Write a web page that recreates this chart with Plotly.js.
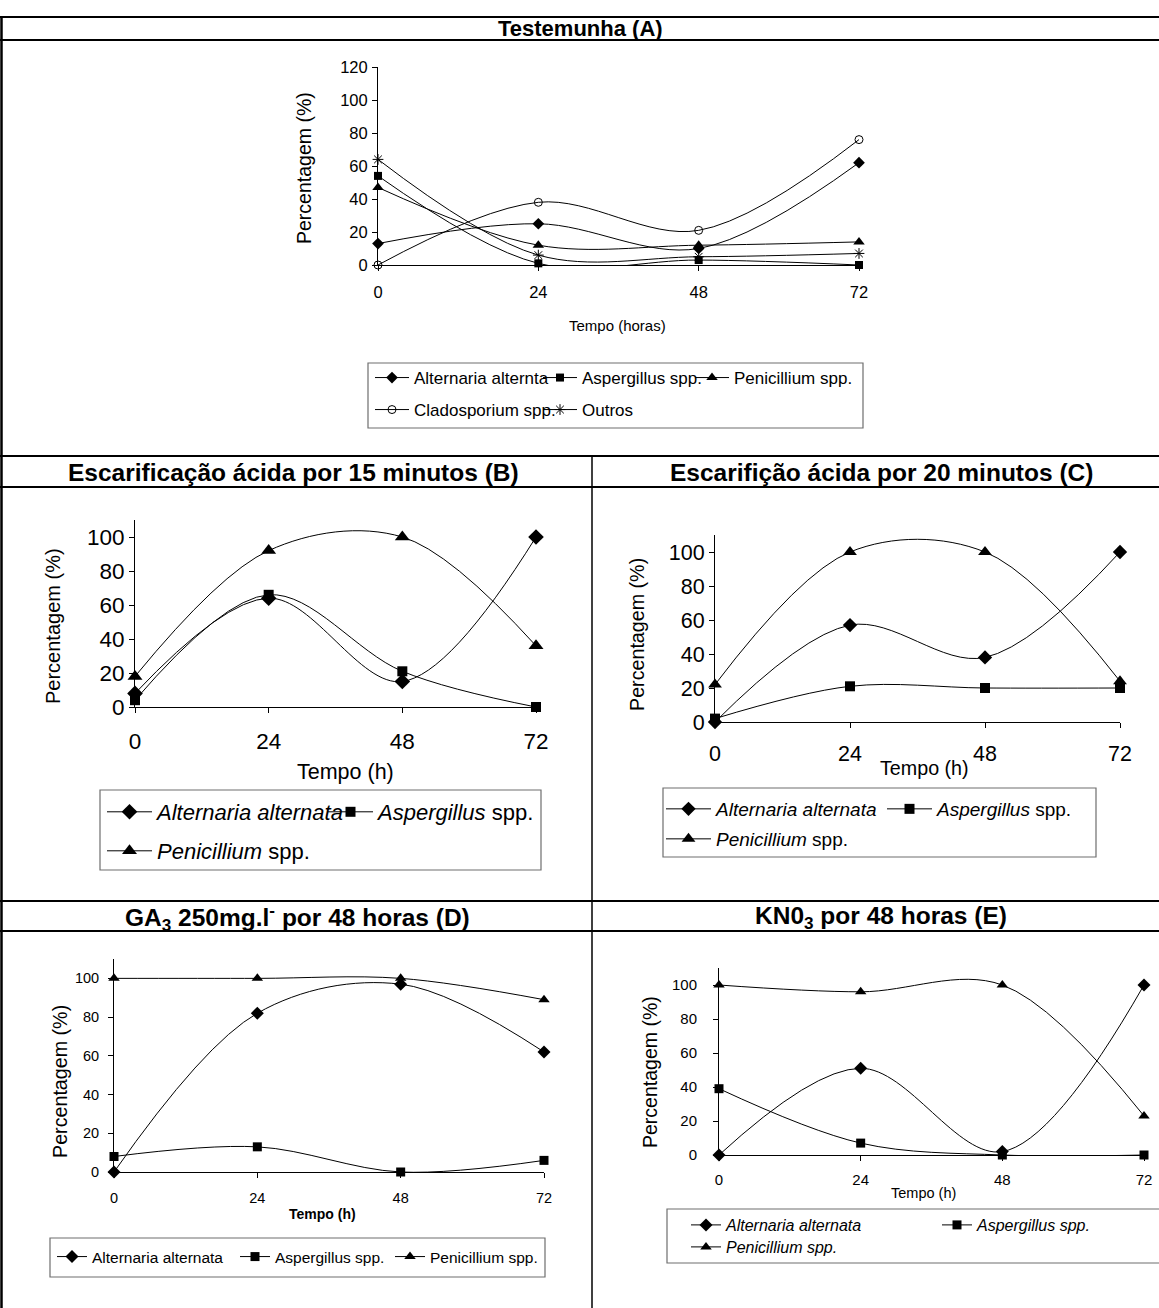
<!DOCTYPE html>
<html><head><meta charset="utf-8">
<script src="https://cdn.plot.ly/plotly-3.0.1.min.js"></script>
<style>html,body{margin:0;padding:0;background:#fff}</style>
</head><body><div id="chart" style="width:1159px;height:1308px"></div>
<script>
// ---------- DATA ----------
const hours = [0, 24, 48, 72];
const hourTicks = ['0', '24', '48', '72'];
const yTicksA = [0, 20, 40, 60, 80, 100, 120];
const yTicks = [0, 20, 40, 60, 80, 100];

// (A) Testemunha
const aAlternaria = [13, 25, 10, 62];
const aAspergillus = [54, 1, 3, 0];
const aPenicillium = [47, 12, 12, 14];
const aCladosporium = [0, 38, 21, 76];
const aOutros = [64, 6, 5, 7];
// (B) Escarificação ácida 15 min
const bAlternaria = [8, 64, 15, 100];
const bAspergillus = [4, 66, 21, 0];
const bPenicillium = [18, 92, 100, 36];
// (C) Escarificação ácida 20 min
const cAlternaria = [0, 57, 38, 100];
const cAspergillus = [2, 21, 20, 20];
const cPenicillium = [22, 100, 100, 24];
// (D) GA3
const dAlternaria = [0, 82, 97, 62];
const dAspergillus = [8, 13, 0, 6];
const dPenicillium = [100, 100, 100, 89];
// (E) KNO3
const eAlternaria = [0, 51, 2, 100];
const eAspergillus = [39, 7, 0, 0];
const ePenicillium = [100, 96, 100, 23];

const titleA = '<b>Testemunha (A)</b>';
const titleB = '<b>Escarificação ácida por 15 minutos (B)</b>';
const titleC = '<b>Escarifição ácida por 20 minutos (C)</b>';
const titleD = '<b>GA<sub>3</sub> 250mg.l<sup>-</sup> por 48 horas (D)</b>';
const titleE = '<b>KN0<sub>3</sub> por 48 horas (E)</b>';

// ---------- LAYOUT HELPERS ----------
const W = 1159, H = 1308;
const px = x => x / W;
const py = y => 1 - y / H;
const FONT = 'Liberation Sans, Arial, sans-serif';

function tr(x, y, name, sym, size, xa, ya, leg, lw, open) {
  return {
    type: 'scatter', mode: 'lines+markers', x: x, y: y, name: name,
    xaxis: xa, yaxis: ya, legend: leg, legendwidth: lw, cliponaxis: false,
    line: {color: '#000', width: 1, shape: 'spline', smoothing: 1},
    marker: {symbol: sym, size: size, color: '#000',
             line: {color: '#000', width: open ? 1 : 0}}
  };
}

const data = [
  tr(hours, aAlternaria, 'Alternaria alternta', 'diamond', 9, 'x', 'y', 'legend', 119),
  tr(hours, aAspergillus, 'Aspergillus spp.', 'square', 8, 'x', 'y', 'legend', 103),
  tr(hours, aPenicillium, 'Penicillium spp.', 'triangle-up', 10, 'x', 'y', 'legend', 140),
  tr(hours, aCladosporium, 'Cladosporium spp.', 'circle-open', 8, 'x', 'y', 'legend2', 119, true),
  tr(hours, aOutros, 'Outros', 'asterisk-open', 9, 'x', 'y', 'legend2', 70, true),

  tr(hours, bAlternaria, '<i>Alternaria alternata</i>', 'diamond', 12, 'x2', 'y2', 'legend3', 161),
  tr(hours, bAspergillus, '<i>Aspergillus</i> spp.', 'square', 10, 'x2', 'y2', 'legend3', 175),
  tr(hours, bPenicillium, '<i>Penicillium</i> spp.', 'triangle-up', 13, 'x2', 'y2', 'legend4', 175),

  tr(hours, cAlternaria, '<i>Alternaria alternata</i>', 'diamond', 11, 'x3', 'y3', 'legend5', 161),
  tr(hours, cAspergillus, '<i>Aspergillus</i> spp.', 'square', 10, 'x3', 'y3', 'legend5', 160),
  tr(hours, cPenicillium, '<i>Penicillium</i> spp.', 'triangle-up', 12, 'x3', 'y3', 'legend6', 160),

  tr(hours, dAlternaria, 'Alternaria alternata', 'diamond', 10, 'x4', 'y4', 'legend7', 138),
  tr(hours, dAspergillus, 'Aspergillus spp.', 'square', 9, 'x4', 'y4', 'legend7', 110),
  tr(hours, dPenicillium, 'Penicillium spp.', 'triangle-up', 10, 'x4', 'y4', 'legend7', 130),

  tr(hours, eAlternaria, '<i>Alternaria alternata</i>', 'diamond', 10, 'x5', 'y5', 'legend8', 206),
  tr(hours, eAspergillus, '<i>Aspergillus spp.</i>', 'square', 9, 'x5', 'y5', 'legend8', 140),
  tr(hours, ePenicillium, '<i>Penicillium spp.</i>', 'triangle-up', 10, 'x5', 'y5', 'legend9', 140)
];

function xax(l, r, anchor, fs, stand) {
  return {domain: [px(l), px(r)], range: [0, 72], tickvals: hours, ticktext: hourTicks,
    showline: true, linecolor: '#000', linewidth: 1, ticks: 'outside', ticklen: 5, tickcolor: '#000',
    showgrid: false, zeroline: false, anchor: anchor, fixedrange: true,
    ticklabelstandoff: stand, tickfont: {family: FONT, size: fs, color: '#000'}};
}
function yax(b, t, max, tv, anchor, fs, stand) {
  return {domain: [py(b), py(t)], range: [0, max], tickvals: tv,
    showline: true, linecolor: '#000', linewidth: 1, ticks: 'outside', ticklen: 5, tickcolor: '#000',
    showgrid: false, zeroline: false, anchor: anchor, fixedrange: true,
    ticklabelstandoff: stand, tickfont: {family: FONT, size: fs, color: '#000'}};
}
function leg(x, y, fs, iw) {
  return {x: px(x), y: py(y), xanchor: 'left', yanchor: 'middle', orientation: 'h',
    bgcolor: 'rgba(0,0,0,0)', borderwidth: 0, traceorder: 'normal', itemwidth: iw || 30,
    font: {family: FONT, size: fs, color: '#000'}};
}
function ann(text, x, y, fs, angle) {
  return {text: text, x: px(x), y: py(y), xref: 'paper', yref: 'paper', showarrow: false,
    xanchor: 'center', yanchor: 'middle', textangle: angle || 0,
    font: {family: FONT, size: fs, color: '#000'}};
}
function hline(y, x0, x1, w) {
  return {type: 'line', xref: 'paper', yref: 'paper', x0: px(x0), x1: px(x1), y0: py(y), y1: py(y),
    line: {color: '#000', width: w}};
}
function vline(x, y0, y1, w) {
  return {type: 'line', xref: 'paper', yref: 'paper', x0: px(x), x1: px(x), y0: py(y0), y1: py(y1),
    line: {color: '#000', width: w}};
}
function box(x0, x1, y0, y1) {
  return {type: 'rect', xref: 'paper', yref: 'paper', x0: px(x0), x1: px(x1), y0: py(y1), y1: py(y0),
    line: {color: '#6e6e6e', width: 1.2}, fillcolor: 'rgba(0,0,0,0)'};
}

const layout = {
  width: W, height: H, margin: {l: 0, r: 0, t: 0, b: 0},
  paper_bgcolor: '#fff', plot_bgcolor: 'rgba(0,0,0,0)', showlegend: true,
  font: {family: FONT, color: '#000'},
  xaxis: xax(378, 859, 'y', 16.5, 7),
  yaxis: yax(265, 67, 120, yTicksA, 'x', 16.5, 1),
  xaxis2: xax(135, 536, 'y2', 22.5, 9),
  yaxis2: yax(707, 520, 110, yTicks, 'x2', 22.5, 0),
  xaxis3: xax(715, 1120, 'y3', 21.5, 7),
  yaxis3: yax(722, 535, 110, yTicks, 'x3', 21.5, 0),
  xaxis4: xax(114, 544, 'y4', 14.5, 8),
  yaxis4: yax(1172, 959, 110, yTicks, 'x4', 14.5, 6),
  xaxis5: xax(719, 1144, 'y5', 15, 6),
  yaxis5: yax(1155, 968, 110, yTicks, 'x5', 15, 13),
  legend: leg(370, 378, 17, 34),
  legend2: leg(370, 410, 17, 34),
  legend3: leg(102, 812, 22, 45),
  legend4: leg(102, 851, 22, 45),
  legend5: leg(661, 809, 19, 45),
  legend6: leg(661, 839, 19, 45),
  legend7: leg(52, 1257, 15.5),
  legend8: leg(686, 1225, 16),
  legend9: leg(686, 1247, 16),
  annotations: [
    ann(titleA, 580, 28, 22),
    ann(titleB, 293, 472, 24.5),
    ann(titleC, 882, 472, 24.5),
    ann(titleD, 297, 917, 24.5),
    ann(titleE, 881, 917, 24.5),
    ann('Percentagem (%)', 304, 168, 19.5, -90),
    ann('Tempo (horas)', 617, 325, 15),
    ann('Percentagem (%)', 53, 626, 20, -90),
    ann('Tempo (h)', 345, 772, 21.5),
    ann('Percentagem (%)', 637, 635, 19.7, -90),
    ann('Tempo (h)', 924, 768, 19.7),
    ann('Percentagem (%)', 60, 1082, 19.7, -90),
    ann('<b>Tempo (h)</b>', 322, 1214, 14),
    ann('Percentagem (%)', 650, 1072, 19.5, -90),
    ann('Tempo (h)', 923, 1193, 14.5)
  ],
  shapes: [
    hline(17, 0, W, 2), hline(40, 0, W, 2), hline(456, 0, W, 2), hline(487, 0, W, 2),
    hline(901, 0, W, 2), hline(931, 0, W, 2),
    vline(1.5, 17, H, 2.5), vline(592, 456, H, 1.5),
    box(368, 863, 363, 428), box(100, 541, 790, 870), box(663, 1096, 788, 857),
    box(50, 545, 1238, 1277), box(667, 1170, 1209, 1263)
  ]
};

Plotly.newPlot('chart', data, layout, {staticPlot: true, displayModeBar: false});
</script></body></html>
